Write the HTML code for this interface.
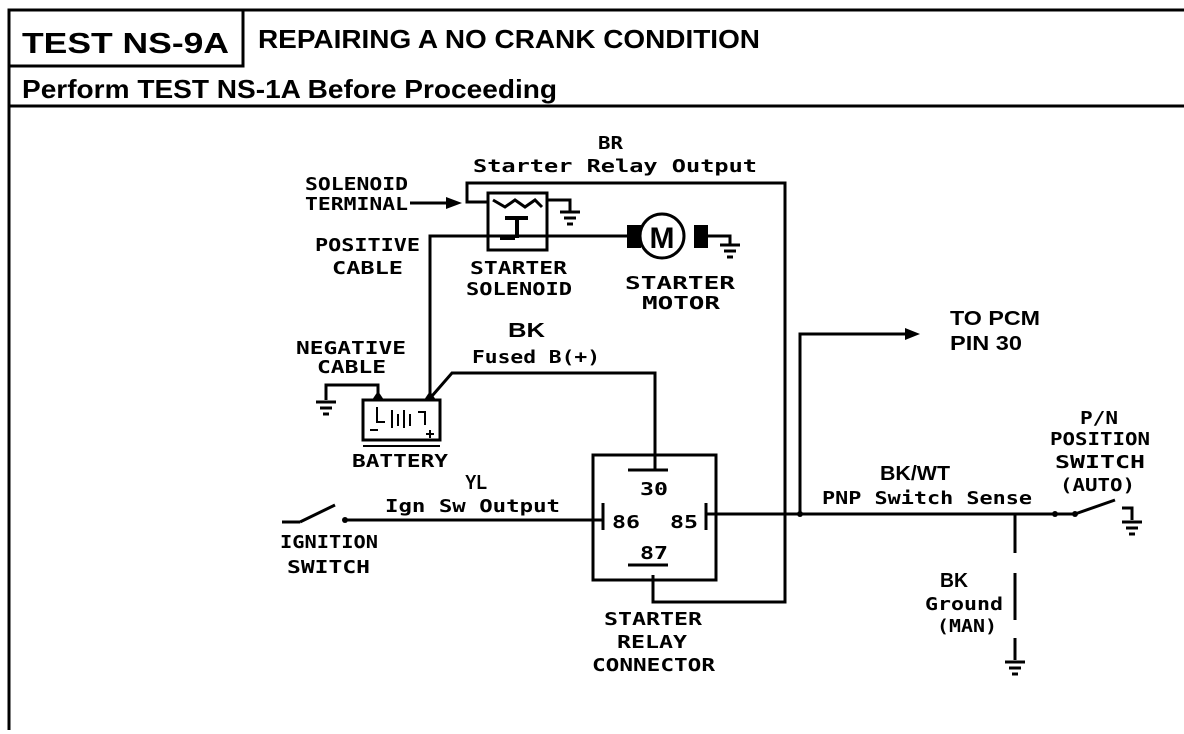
<!DOCTYPE html>
<html><head><meta charset="utf-8"><style>
html,body{margin:0;padding:0;background:#fff}
svg{display:block}
text{font-family:"Liberation Sans",sans-serif;font-weight:bold;fill:#000}
.m{font-family:"DejaVu Sans Mono","Liberation Mono",monospace;font-weight:bold}
</style></head><body>
<svg width="1184" height="734" viewBox="0 0 1184 734" xmlns="http://www.w3.org/2000/svg">
<g stroke="#000" fill="none" stroke-width="3">
<line x1="9" y1="10" x2="1184" y2="10"/>
<line x1="9" y1="10" x2="9" y2="730"/>
<rect x="9" y="10" width="234" height="56"/>
<line x1="9" y1="106" x2="1184" y2="106"/>
</g>
<text x="22" y="53" font-size="29" textLength="207" lengthAdjust="spacingAndGlyphs">TEST NS-9A</text>
<text x="258" y="48" font-size="26" textLength="502" lengthAdjust="spacingAndGlyphs">REPAIRING A NO CRANK CONDITION</text>
<text x="22" y="98" font-size="26" textLength="535" lengthAdjust="spacingAndGlyphs">Perform TEST NS-1A Before Proceeding</text>

<g stroke="#000" fill="none" stroke-width="3">
<polyline points="488,202 467,202 467,183 785,183 785,602 653,602 653,575"/>
<rect x="488" y="193" width="59" height="57"/>
<polyline points="493,200 505,207 515,200 525,207 535,200 542,207"/>
<line x1="505" y1="218" x2="528" y2="218" stroke-width="4"/>
<line x1="517" y1="218" x2="517" y2="238" stroke-width="4"/>
<line x1="500" y1="238" x2="515" y2="238" stroke-width="4"/>
<polyline points="547,200 570,200 570,212"/>
<line x1="560" y1="212" x2="580" y2="212"/><line x1="564" y1="218" x2="576" y2="218"/><line x1="567" y1="224" x2="573" y2="224"/>
<line x1="410" y1="203" x2="458" y2="203"/>
<polyline points="430,395 430,236 627,236"/>
<circle cx="662" cy="236" r="22"/>
<polyline points="708,236 730,236 730,245"/>
<line x1="720" y1="245" x2="740" y2="245"/><line x1="724" y1="251" x2="736" y2="251"/><line x1="727" y1="257" x2="733" y2="257"/>
<rect x="363" y="400" width="77" height="40"/>
<line x1="363" y1="446" x2="440" y2="446" stroke-width="2"/>
<polyline points="378,398 378,385 326,385 326,400"/>
<line x1="316" y1="402" x2="336" y2="402"/><line x1="320" y1="408" x2="332" y2="408"/><line x1="323" y1="414" x2="329" y2="414"/>
<polyline points="377,407 377,422 385,422" stroke-width="2"/>
<line x1="392" y1="410" x2="392" y2="428" stroke-width="2"/><line x1="398" y1="414" x2="398" y2="426" stroke-width="2"/>
<line x1="404" y1="410" x2="404" y2="428" stroke-width="2"/><line x1="410" y1="414" x2="410" y2="426" stroke-width="2"/>
<polyline points="418,412 425,412 425,425" stroke-width="2"/>
<line x1="370" y1="430" x2="378" y2="430" stroke-width="2"/>
<line x1="426" y1="434" x2="434" y2="434" stroke-width="2"/><line x1="430" y1="430" x2="430" y2="438" stroke-width="2"/>
<polyline points="432,396 452,373 655,373 655,470"/>
<rect x="593" y="455" width="123" height="125"/>
<line x1="628" y1="470" x2="668" y2="470"/>
<line x1="628" y1="565" x2="668" y2="565"/>
<line x1="603" y1="503" x2="603" y2="530"/>
<line x1="706" y1="503" x2="706" y2="530"/>
<line x1="282" y1="522" x2="300" y2="522"/>
<line x1="300" y1="522" x2="335" y2="505"/>
<line x1="345" y1="520" x2="603" y2="520"/>
<line x1="706" y1="514" x2="1055" y2="514"/>
<polyline points="800,514 800,334 905,334"/>
<line x1="1055" y1="514" x2="1075" y2="514"/>
<line x1="1075" y1="514" x2="1115" y2="500"/>
<polyline points="1122,508 1132,508 1132,520"/>
<line x1="1122" y1="522" x2="1142" y2="522"/><line x1="1126" y1="528" x2="1138" y2="528"/><line x1="1129" y1="534" x2="1135" y2="534"/>
<line x1="1015" y1="514" x2="1015" y2="553"/>
<line x1="1015" y1="573" x2="1015" y2="620"/>
<line x1="1015" y1="638" x2="1015" y2="660"/>
<line x1="1005" y1="662" x2="1025" y2="662"/><line x1="1009" y1="668" x2="1021" y2="668"/><line x1="1012" y1="674" x2="1018" y2="674"/>
</g>
<g fill="#000">
<polygon points="446,197 462,203 446,209"/>
<polygon points="905,328 920,334 905,340"/>
<rect x="627" y="225" width="14" height="23"/>
<rect x="694" y="225" width="14" height="23"/>
<polygon points="372,400 384,400 378,391"/>
<polygon points="424,400 436,400 430,391"/>
<circle cx="345" cy="520" r="3"/>
<circle cx="800" cy="514" r="3"/>
<circle cx="1055" cy="514" r="3"/>
<circle cx="1075" cy="514" r="3"/>
</g>
<text x="662" y="248" font-size="30" text-anchor="middle">M</text>

<g font-size="18">
<text class="m" x="598" y="149" textLength="25" lengthAdjust="spacingAndGlyphs">BR</text>
<text class="m" x="473" y="172" textLength="284" lengthAdjust="spacingAndGlyphs">Starter Relay Output</text>
<text class="m" x="305" y="190" textLength="103" lengthAdjust="spacingAndGlyphs">SOLENOID</text>
<text class="m" x="305" y="210" textLength="103" lengthAdjust="spacingAndGlyphs">TERMINAL</text>
<text class="m" x="315" y="251" textLength="105" lengthAdjust="spacingAndGlyphs">POSITIVE</text>
<text class="m" x="332" y="274" textLength="71" lengthAdjust="spacingAndGlyphs">CABLE</text>
<text class="m" x="470" y="274" textLength="97" lengthAdjust="spacingAndGlyphs">STARTER</text>
<text class="m" x="466" y="295" textLength="106" lengthAdjust="spacingAndGlyphs">SOLENOID</text>
<text class="m" x="625" y="289" textLength="110" lengthAdjust="spacingAndGlyphs">STARTER</text>
<text class="m" x="642" y="309" textLength="78" lengthAdjust="spacingAndGlyphs">MOTOR</text>
<text class="m" x="296" y="354" textLength="110" lengthAdjust="spacingAndGlyphs">NEGATIVE</text>
<text class="m" x="317" y="373" textLength="69" lengthAdjust="spacingAndGlyphs">CABLE</text>
<text class="m" x="472" y="363" textLength="128" lengthAdjust="spacingAndGlyphs">Fused B(+)</text>
<text class="m" x="352" y="467" textLength="96" lengthAdjust="spacingAndGlyphs">BATTERY</text>
<text class="m" x="385" y="512" textLength="175" lengthAdjust="spacingAndGlyphs">Ign Sw Output</text>
<text class="m" x="640" y="495" textLength="28" lengthAdjust="spacingAndGlyphs">30</text>
<text class="m" x="612" y="528" textLength="28" lengthAdjust="spacingAndGlyphs">86</text>
<text class="m" x="670" y="528" textLength="28" lengthAdjust="spacingAndGlyphs">85</text>
<text class="m" x="640" y="559" textLength="28" lengthAdjust="spacingAndGlyphs">87</text>
<text class="m" x="280" y="548" textLength="98" lengthAdjust="spacingAndGlyphs">IGNITION</text>
<text class="m" x="287" y="573" textLength="83" lengthAdjust="spacingAndGlyphs">SWITCH</text>
<text class="m" x="604" y="625" textLength="98" lengthAdjust="spacingAndGlyphs">STARTER</text>
<text class="m" x="617" y="648" textLength="70" lengthAdjust="spacingAndGlyphs">RELAY</text>
<text class="m" x="592" y="671" textLength="123" lengthAdjust="spacingAndGlyphs">CONNECTOR</text>
<text class="m" x="822" y="504" textLength="210" lengthAdjust="spacingAndGlyphs">PNP Switch Sense</text>
<text class="m" x="1080" y="424" textLength="38" lengthAdjust="spacingAndGlyphs">P/N</text>
<text class="m" x="1050" y="445" textLength="100" lengthAdjust="spacingAndGlyphs">POSITION</text>
<text class="m" x="1055" y="468" textLength="90" lengthAdjust="spacingAndGlyphs">SWITCH</text>
<text class="m" x="1060" y="491" textLength="75" lengthAdjust="spacingAndGlyphs">(AUTO)</text>
<text class="m" x="925" y="610" textLength="78" lengthAdjust="spacingAndGlyphs">Ground</text>
<text class="m" x="937" y="632" textLength="60" lengthAdjust="spacingAndGlyphs">(MAN)</text>
</g>
<g font-size="20">
<text x="508" y="337" textLength="37" lengthAdjust="spacingAndGlyphs">BK</text>
<text x="465" y="489" textLength="22" lengthAdjust="spacingAndGlyphs">YL</text>
<text x="880" y="480" textLength="70" lengthAdjust="spacingAndGlyphs">BK/WT</text>
<text x="940" y="587" textLength="28" lengthAdjust="spacingAndGlyphs">BK</text>
<text x="950" y="325" textLength="90" lengthAdjust="spacingAndGlyphs">TO PCM</text>
<text x="950" y="350" textLength="72" lengthAdjust="spacingAndGlyphs">PIN 30</text>
</g>
</svg>
</body></html>
